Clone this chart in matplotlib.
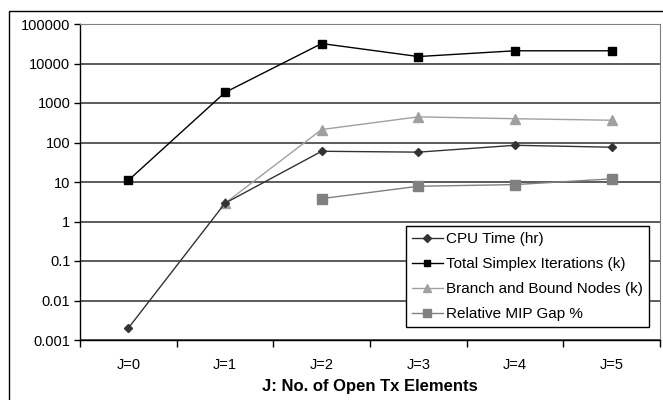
import numpy as np
import matplotlib.pyplot as plt
from matplotlib.patches import Rectangle

plt.rcParams['font.family'] = ['Liberation Sans', 'DejaVu Sans']

cats = ['J=0', 'J=1', 'J=2', 'J=3', 'J=4', 'J=5']
cpu_time = [0.002, 2.9, 60, 57, 85, 76]
simplex_iters = [11, 1850, 32000, 15000, 21000, 21000]
bb_nodes = [np.nan, 2.9, 213, 446, 400, 366]
mip_gap = [np.nan, np.nan, 3.8, 7.8, 8.6, 12]

fig = plt.figure(figsize=(6.63, 4.0), dpi=100)
# outer chart border (right and bottom edges fall outside the image)
fig.patches.append(Rectangle((9/663, -0.1), 1.2, 1 - 11/400 + 0.1, transform=fig.transFigure,
                             fill=False, edgecolor='black', linewidth=1.0))

ax = fig.add_axes([80/663, 60/400, 580/663, 316/400])
x = np.arange(len(cats))

ax.plot(x, cpu_time, color='#333333', marker='D', markersize=4.5, linewidth=1.0,
        label='CPU Time (hr)', zorder=4)
ax.plot(x, simplex_iters, color='black', marker='s', markersize=5.5, linewidth=1.0,
        label='Total Simplex Iterations (k)', zorder=5)
ax.plot(x, bb_nodes, color='#a0a0a0', marker='^', markersize=7, linewidth=1.0,
        label='Branch and Bound Nodes (k)', zorder=3)
ax.plot(x, mip_gap, color='#808080', marker='s', markersize=6.5, linewidth=1.0,
        label='Relative MIP Gap %', zorder=3)

ax.set_yscale('log')
ax.set_ylim(0.001, 100000)
ax.set_xlim(-0.5, len(cats) - 0.5)
yt = [0.001, 0.01, 0.1, 1, 10, 100, 1000, 10000, 100000]
ax.set_yticks(yt)
ax.set_yticklabels(['0.001', '0.01', '0.1', '1', '10', '100', '1000', '10000', '100000'])
ax.yaxis.set_minor_locator(plt.NullLocator())
ax.grid(axis='y', color='#404040', linewidth=1.2)
ax.set_axisbelow(True)

ax.set_xticks(x)
ax.set_xticklabels(cats)
ax.set_xticks(np.arange(-0.5, len(cats)), minor=True)
ax.tick_params(axis='x', which='major', length=0, pad=13, labelsize=10.5)
ax.tick_params(axis='x', which='minor', length=5, width=1, direction='out')
ax.tick_params(axis='y', length=4, width=1, direction='out', labelsize=10.5, pad=3)

for s in ['top', 'right']:
    ax.spines[s].set_color('#808080')
for s in ['left', 'bottom']:
    ax.spines[s].set_color('black')
    ax.spines[s].set_linewidth(1.0)

ax.set_xlabel('J: No. of Open Tx Elements', fontsize=12, fontweight='bold', labelpad=5)

leg = ax.legend(loc='upper left', bbox_to_anchor=(0.562, 0.361), borderaxespad=0,
                fancybox=False, edgecolor='black', fontsize=11, handlelength=2.0,
                handletextpad=0.2, labelspacing=0.72, borderpad=0.4, framealpha=1,
                markerscale=0.8)
leg.get_frame().set_linewidth(1.0)

fig.savefig('out.png', dpi=100)
